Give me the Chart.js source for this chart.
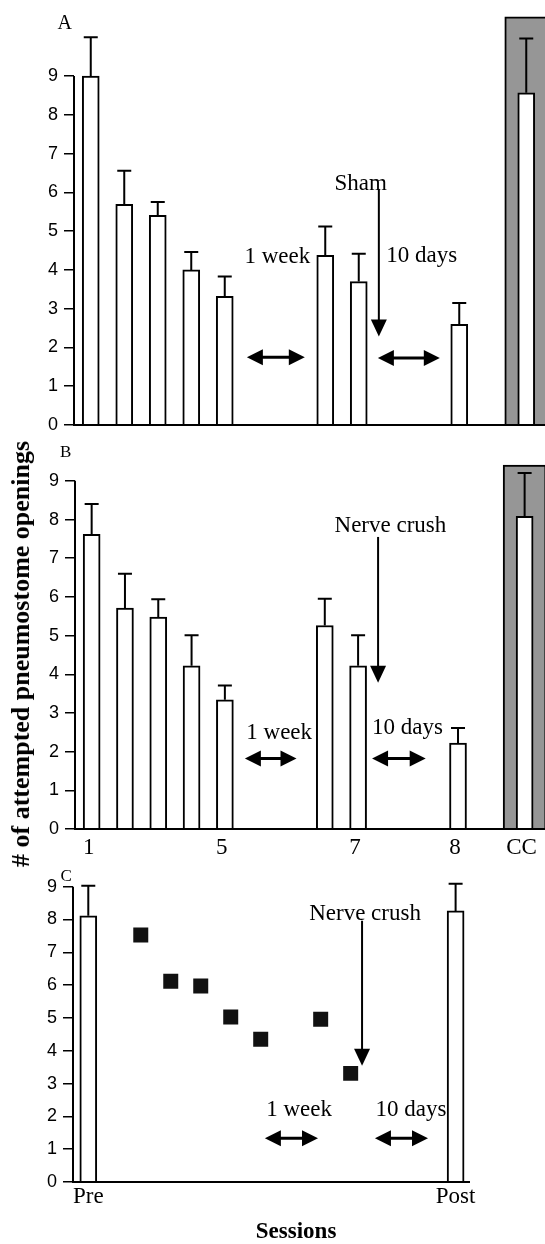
<!DOCTYPE html>
<html><head><meta charset="utf-8">
<script src="https://cdn.jsdelivr.net/npm/chart.js@4.4.1/dist/chart.umd.min.js"></script>
<style>
html,body{margin:0;padding:0;background:#fff;}
body{width:545px;height:1244px;position:relative;overflow:hidden;}
canvas{position:absolute;left:0;}
#ylab{position:absolute;left:21px;top:654px;transform:translate(-50%,-50%) rotate(-90deg);font:bold 26px "Liberation Serif";white-space:nowrap;color:#000;line-height:1;}
</style></head><body>
<canvas id="ca" width="545" height="445" style="top:0px"></canvas>
<canvas id="cb" width="545" height="430" style="top:440px"></canvas>
<canvas id="cc" width="545" height="384" style="top:860px"></canvas>
<div id="ylab"># of attempted pneumostome openings</div>
<script>
// ---------- data ----------
const slots = ['1','2','3','4','5','','','6','7','','','8','','CC'];
const shownTicksB = ['1','5','7','8','CC'];
const yTicks = [0,1,2,3,4,5,6,7,8,9];

const meanA  = [9.0, 5.69, 5.41, 4.0, 3.32, null, null, 4.38, 3.70, null, null, 2.60, null, 8.57];
const upperA = [10.0, 6.56, 5.75, 4.46, 3.83, null, null, 5.12, 4.42, null, null, 3.15, null, 9.97];
const controlA = [null,null,null,null,null,null,null,null,null,null,null,null,null,10.53];

const meanB  = [7.62, 5.71, 5.48, 4.22, 3.34, null, null, 5.26, 4.22, null, null, 2.22, null, 8.08];
const upperB = [8.40, 6.60, 5.94, 5.01, 3.71, null, null, 5.95, 5.01, null, null, 2.61, null, 9.20];
const controlB = [null,null,null,null,null,null,null,null,null,null,null,null,null,9.41];

const sessionsC = [1, 2, 3, 4, 5, 7, 8];
const meanC = [7.53, 6.12, 5.97, 5.03, 4.35, 4.96, 3.31];
const prePostLabels = ['Pre', 'Post'];
const prePostX = [-0.75, 11.5];
const prePostMean = [8.11, 8.26];
const prePostUpper = [9.03, 9.09];

// ---------- plugins ----------
const errBars = {
  id: 'errBars',
  afterDatasetsDraw(chart) {
    const ctx = chart.ctx, ys = chart.scales.y;
    chart.data.datasets.forEach((ds, di) => {
      if (!ds.upper) return;
      const meta = chart.getDatasetMeta(di);
      meta.data.forEach((el, i) => {
        const u = ds.upper[i];
        if (u == null) return;
        const top = ys.getPixelForValue(u);
        ctx.save();
        ctx.lineWidth = 2; ctx.strokeStyle = '#000';
        ctx.beginPath();
        ctx.moveTo(el.x, el.y); ctx.lineTo(el.x, top);
        ctx.moveTo(el.x - 7, top); ctx.lineTo(el.x + 7, top);
        ctx.stroke();
        ctx.restore();
      });
    });
  }
};

const deco = {
  id: 'deco',
  afterDraw(chart, args, o) {
    const ctx = chart.ctx, xs = chart.scales.x, ys = chart.scales.y, ca = chart.chartArea;
    const X = v => xs.getPixelForValue(v), Y = v => ys.getPixelForValue(v);
    ctx.save();
    ctx.strokeStyle = '#000'; ctx.fillStyle = '#000';
    ctx.lineWidth = 2;
    ctx.beginPath(); ctx.moveTo(ca.left, Y(0)); ctx.lineTo(ca.left, Y(o.axisTop)); ctx.stroke();
    ctx.beginPath(); ctx.moveTo(ca.left - 1, Y(0)); ctx.lineTo(o.xLineEnd != null ? o.xLineEnd : ca.right, Y(0)); ctx.stroke();
    (o.downArrows || []).forEach(a => {
      const x = X(a.x), y1 = Y(a.y1), y2 = Y(a.y2);
      ctx.lineWidth = 2;
      ctx.beginPath(); ctx.moveTo(x, y1); ctx.lineTo(x, y2 - 14); ctx.stroke();
      ctx.beginPath(); ctx.moveTo(x - 8, y2 - 17); ctx.lineTo(x + 8, y2 - 17); ctx.lineTo(x, y2); ctx.closePath(); ctx.fill();
    });
    (o.dblArrows || []).forEach(a => {
      const x1 = X(a.x1), x2 = X(a.x2), y = Y(a.y);
      ctx.lineWidth = 3;
      ctx.beginPath(); ctx.moveTo(x1 + 10, y); ctx.lineTo(x2 - 10, y); ctx.stroke();
      ctx.beginPath(); ctx.moveTo(x1, y); ctx.lineTo(x1 + 16, y - 8); ctx.lineTo(x1 + 16, y + 8); ctx.closePath(); ctx.fill();
      ctx.beginPath(); ctx.moveTo(x2, y); ctx.lineTo(x2 - 16, y - 8); ctx.lineTo(x2 - 16, y + 8); ctx.closePath(); ctx.fill();
    });
    (o.texts || []).forEach(t => {
      ctx.font = t.font || '23px "Liberation Serif"';
      ctx.textAlign = 'center'; ctx.textBaseline = 'middle';
      ctx.fillText(t.t, X(t.x), Y(t.y));
    });
    ctx.restore();
  }
};

function yScale(max, width) {
  return {
    min: 0, max: max,
    afterBuildTicks: s => { s.ticks = yTicks.map(v => ({ value: v })); },
    afterFit: s => { s.width = width; },
    grid: { display: true, drawOnChartArea: false, drawTicks: true, tickLength: 10, color: '#000', lineWidth: 1.5 },
    border: { display: false },
    ticks: { padding: 6, color: '#000', font: { family: 'Liberation Sans', size: 18 } }
  };
}

const baseOpts = {
  responsive: false, animation: false,
  plugins: { legend: { display: false }, tooltip: { enabled: false } }
};

function barChart(id, mean, upper, control, yMax, yW, pad, xOpts, decoOpts) {
  return new Chart(document.getElementById(id), {
    type: 'bar',
    data: {
      labels: slots,
      datasets: [
        { data: mean, upper: upper, backgroundColor: '#fff', borderColor: '#000', borderWidth: 2, barThickness: 17, grouped: false, order: 0 },
        { data: control, backgroundColor: '#969696', borderColor: '#000', borderWidth: { top: 2, left: 2, right: 2, bottom: 0 }, barThickness: 43, grouped: false, order: 1, clip: false }
      ]
    },
    options: Object.assign({}, baseOpts, {
      layout: { padding: pad },
      scales: { x: xOpts, y: yScale(yMax, yW) },
      plugins: Object.assign({}, baseOpts.plugins, { deco: decoOpts })
    }),
    plugins: [errBars, deco]
  });
}

barChart('ca', meanA, upperA, controlA, 10.53, 74, { top: 10, right: 2, bottom: 20, left: 0 },
  { display: false },
  {
    axisTop: 9, xLineEnd: 545,
    downArrows: [{ x: 8.6, y1: 6.09, y2: 2.28 }],
    dblArrows: [{ x1: 4.66, x2: 6.39, y: 1.75 }, { x1: 8.57, x2: 10.42, y: 1.73 }],
    texts: [
      { t: 'A', x: -0.78, y: 10.35, font: '20px "Liberation Serif"' },
      { t: 'Sham', x: 8.06, y: 6.22 },
      { t: '1 week', x: 5.57, y: 4.34 },
      { t: '10 days', x: 9.88, y: 4.37 }
    ]
  });

barChart('cb', meanB, upperB, controlB, 9.41, 75, { top: 25, right: 1, bottom: 0, left: 0 },
  {
    afterFit: s => { s.height = 41; },
    grid: { display: false, drawTicks: false }, border: { display: false },
    ticks: {
      autoSkip: false, maxRotation: 0, padding: 5, labelOffset: -3, color: '#000',
      font: { family: 'Liberation Serif', size: 23 },
      callback: (v, i) => shownTicksB.includes(slots[i]) ? slots[i] : ''
    }
  },
  {
    axisTop: 9, xLineEnd: 545,
    downArrows: [{ x: 8.6, y1: 7.55, y2: 3.78 }],
    dblArrows: [{ x1: 4.6, x2: 6.15, y: 1.82 }, { x1: 8.42, x2: 10.03, y: 1.82 }],
    texts: [
      { t: 'B', x: -0.78, y: 9.73, font: '17px "Liberation Serif"' },
      { t: 'Nerve crush', x: 8.97, y: 7.84 },
      { t: '1 week', x: 5.63, y: 2.49 },
      { t: '10 days', x: 9.48, y: 2.62 }
    ]
  });

new Chart(document.getElementById('cc'), {
  type: 'bar',
  data: {
    datasets: [
      { type: 'bar', data: prePostX.map((x, i) => ({ x: x, y: prePostMean[i] })), upper: prePostUpper,
        backgroundColor: '#fff', borderColor: '#000', borderWidth: 2, barThickness: 17 },
      { type: 'line', data: sessionsC.map((s, i) => ({ x: s, y: meanC[i] })), showLine: false,
        pointStyle: 'rect', pointRadius: 10.6, pointBackgroundColor: '#111', pointBorderWidth: 0 }
    ]
  },
  options: Object.assign({}, baseOpts, {
    layout: { padding: { top: 10, right: 75, bottom: 0, left: 0 } },
    scales: {
      x: {
        type: 'linear', min: -1.26, max: 11.98, offset: false, bounds: 'data',
        afterBuildTicks: s => { s.ticks = prePostX.map(v => ({ value: v })); },
        afterFit: s => { s.height = 62; },
        grid: { display: false, drawTicks: false, offset: false }, border: { display: false },
        ticks: { padding: 1, color: '#000', font: { family: 'Liberation Serif', size: 23 },
          callback: (v, i) => prePostLabels[i] }
      },
      y: yScale(9.30, 73)
    },
    plugins: Object.assign({}, baseOpts.plugins, {
      deco: {
        axisTop: 9,
        downArrows: [{ x: 8.38, y1: 7.96, y2: 3.54 }],
        dblArrows: [{ x1: 5.14, x2: 6.91, y: 1.33 }, { x1: 8.81, x2: 10.58, y: 1.33 }],
        texts: [
          { t: 'C', x: -1.49, y: 9.30, font: '17px "Liberation Serif"' },
          { t: 'Nerve crush', x: 8.48, y: 8.17 },
          { t: '1 week', x: 6.28, y: 2.2 },
          { t: '10 days', x: 10.01, y: 2.2 },
          { t: 'Sessions', x: 6.18, y: -1.52, font: 'bold 23px "Liberation Serif"' }
        ]
      }
    })
  }),
  plugins: [errBars, deco]
});
</script>
</body></html>
